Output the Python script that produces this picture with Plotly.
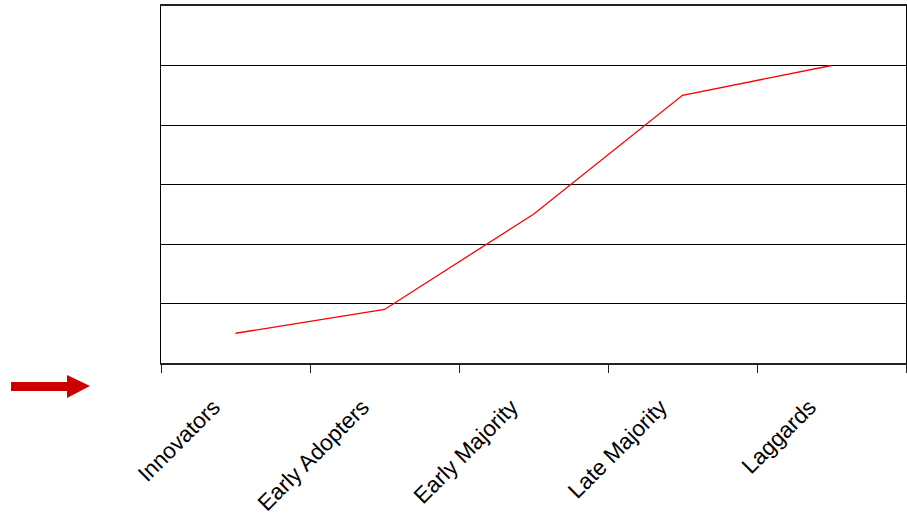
import plotly.graph_objects as go

# Adoption stages and relative adoption level
stages = ["Innovators", "Early Adopters", "Early Majority", "Late Majority", "Laggards"]
adoption = [0.5, 0.9, 2.5, 4.5, 5.0]

fig = go.Figure()
fig.add_trace(go.Scatter(
    x=stages, y=adoption, mode="lines",
    line=dict(color="#ff0000", width=1.3),
    hoverinfo="skip", showlegend=False,
))

# Red arrow at the left of the category axis (pixel geometry anchored to paper)
fig.add_shape(
    type="path",
    xref="paper", yref="paper",
    xsizemode="pixel", ysizemode="pixel",
    xanchor=0, yanchor=0,
    path="M -150,-19 L -94,-19 L -94,-12 L -71,-23 L -94,-35 L -94,-28 L -150,-28 Z",
    fillcolor="#cc0000", line=dict(width=0),
)

fig.update_layout(
    width=907, height=517,
    margin=dict(l=161, r=1, t=6, b=154, autoexpand=False),
    paper_bgcolor="white", plot_bgcolor="white",
    font=dict(family="Liberation Sans, Arial, sans-serif", color="black"),
    xaxis=dict(
        type="category", range=[-0.5, 4.5], automargin=False,
        tickson="boundaries", ticks="outside", ticklen=8, tickwidth=1, tickcolor="#222",
        tickangle=-45, tickfont=dict(size=22.5, color="black"),
        ticklabelstandoff=20, ticklabelshift=-22,
        showline=True, linecolor="#222", linewidth=2, mirror=True,
        showgrid=False, zeroline=False,
    ),
    yaxis=dict(
        range=[0, 6], dtick=1, showticklabels=False, ticks="", automargin=False,
        showgrid=True, gridcolor="black", gridwidth=1,
        showline=True, linecolor="black", linewidth=1, mirror=True,
        zeroline=False,
    ),
)

fig.write_html("out.html")
